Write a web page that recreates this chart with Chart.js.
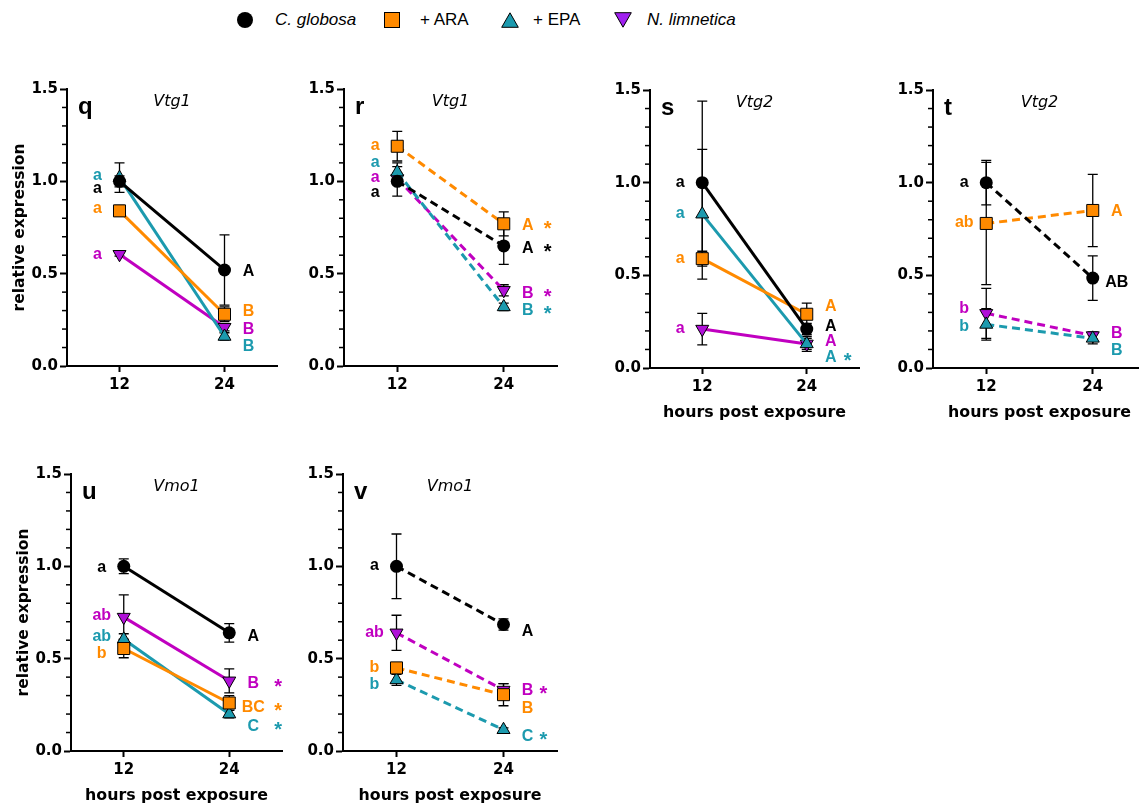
<!DOCTYPE html>
<html>
<head>
<meta charset="utf-8">
<script src="https://cdn.jsdelivr.net/npm/chart.js@4.4.1/dist/chart.umd.min.js"></script>
<style>
  html, body { margin: 0; padding: 0; background: #fff; }
  body { position: relative; width: 1139px; height: 807px; overflow: hidden; font-family: "Liberation Sans", Arial, sans-serif; }
  canvas { position: absolute; }
  .lg { position: absolute; top: 9px; height: 22px; line-height: 22px; font-size: 17px; color: #000; white-space: nowrap; }
  .lg.it { font-style: italic; }
  .mk { position: absolute; }
</style>
</head>
<body>

<!-- legend -->
<svg class="mk" style="left:236px;top:11px" width="18" height="18"><circle cx="9" cy="9" r="8" fill="#000"/></svg>
<div class="lg it" style="left:275px">C. globosa</div>
<svg class="mk" style="left:384px;top:12px" width="16" height="16"><rect x="0.5" y="0.5" width="15" height="15" fill="#FF8A00" stroke="#000"/></svg>
<div class="lg" style="left:420px">+ ARA</div>
<svg class="mk" style="left:501px;top:12px" width="18" height="16"><polygon points="9,0.8 17.3,15.3 0.7,15.3" fill="#1C9AAE" stroke="#000"/></svg>
<div class="lg" style="left:533px">+ EPA</div>
<svg class="mk" style="left:614px;top:12px" width="18" height="16"><polygon points="0.7,0.7 17.3,0.7 9,15.2" fill="#A020F0" stroke="#000"/></svg>
<div class="lg it" style="left:647px">N. limnetica</div>

<script>
// ==========================================
// Data (series order: C. globosa, + ARA, + EPA, N. limnetica)
// ==========================================
const hours = [12, 24];
const seriesNames = ['C. globosa', '+ ARA', '+ EPA', 'N. limnetica'];
const yTicks = [0, 0.5, 1.0, 1.5];

// q - Vtg1
const qMean = [[1.00, 0.52], [0.84, 0.28], [1.02, 0.16], [0.605, 0.21]];
const qSem = [[0.03, 0.19], [0.03, 0.04], [0.08, 0.02], [0.01, 0.02]];
const qEarly = ['a', 'a', 'a', 'a'];
const qEarlyY = [0.96, 0.85, 1.03, 0.60];
const qLate = ['A', 'B', 'B', 'B'];
const qLateY = [0.52, 0.305, 0.115, 0.205];
const qStar = [0, 0, 0, 0];

// r - Vtg1
const rMean = [[1.00, 0.65], [1.19, 0.77], [1.05, 0.32], [1.015, 0.41]];
const rSem = [[0.08, 0.10], [0.08, 0.065], [0.05, 0.02], [0.03, 0.03]];
const rEarly = ['a', 'a', 'a', 'a'];
const rEarlyY = [0.935, 1.19, 1.10, 1.016];
const rLate = ['A', 'A', 'B', 'B'];
const rLateY = [0.645, 0.77, 0.307, 0.40];
const rStar = [1, 1, 1, 1];

// s - Vtg2
const sMean = [[1.00, 0.21], [0.59, 0.29], [0.83, 0.13], [0.21, 0.13]];
const sSem = [[0.44, 0.03], [0.04, 0.06], [0.35, 0.03], [0.085, 0.04]];
const sEarly = ['a', 'a', 'a', 'a'];
const sEarlyY = [1.0, 0.59, 0.83, 0.21];
const sLate = ['A', 'A', 'A', 'A'];
const sLateY = [0.232, 0.34, 0.065, 0.151];
const sStar = [0, 0, 1, 0];

// t - Vtg2
const tMean = [[1.00, 0.485], [0.78, 0.85], [0.235, 0.16], [0.295, 0.175]];
const tSem = [[0.12, 0.12], [0.33, 0.195], [0.085, 0.03], [0.135, 0.02]];
const tEarly = ['a', 'ab', 'b', 'b'];
const tEarlyY = [1.0, 0.78, 0.222, 0.317];
const tLate = ['AB', 'A', 'B', 'B'];
const tLateY = [0.47, 0.85, 0.105, 0.194];
const tStar = [0, 0, 0, 0];

// u - Vmo1
const uMean = [[1.00, 0.64], [0.555, 0.26], [0.605, 0.20], [0.725, 0.38]];
const uSem = [[0.04, 0.05], [0.05, 0.04], [0.03, 0.02], [0.12, 0.065]];
const uEarly = ['a', 'b', 'ab', 'ab'];
const uEarlyY = [0.99, 0.525, 0.62, 0.73];
const uLate = ['A', 'BC', 'C', 'B'];
const uLateY = [0.628, 0.244, 0.141, 0.375];
const uStar = [0, 1, 1, 1];

// v - Vmo1
const vMean = [[1.00, 0.685], [0.45, 0.305], [0.385, 0.115], [0.64, 0.33]];
const vSem = [[0.175, 0.03], [0.02, 0.06], [0.03, 0.01], [0.095, 0.035]];
const vEarly = ['a', 'b', 'b', 'ab'];
const vEarlyY = [1.0, 0.45, 0.357, 0.64];
const vLate = ['A', 'B', 'C', 'B'];
const vLateY = [0.655, 0.24, 0.087, 0.335];
const vStar = [0, 0, 1, 1];

// ==========================================
// Styles
// ==========================================
const FONT = '"Liberation Sans", Arial, sans-serif';
const WIDE = '"DejaVu Sans", Verdana, sans-serif';
Chart.defaults.font.family = WIDE;

const lineColors = ['#000000', '#FF8A00', '#1C9AAE', '#C000C0'];
const fillColors = ['#000000', '#FF8A00', '#1C9AAE', '#B010D8'];
const pointStyles = ['circle', 'rect', 'triangle', 'triangle'];
const pointRot = [0, 0, 0, 180];
const pointRad = [6.5, 8.5, 7.5, 7.5];

// chart area in page pixels: [left, right, top, bottom]
const panels = [
  { id: 'q', gene: 'Vtg1', dashed: false, box: [67, 277, 89, 366], yTitle: true, xTitle: false, starDx: 44,
    mean: qMean, sem: qSem, early: qEarly, earlyY: qEarlyY, late: qLate, lateY: qLateY, star: qStar },
  { id: 'r', gene: 'Vtg1', dashed: true, box: [344, 557, 89, 366], yTitle: false, xTitle: false, starDx: 44,
    mean: rMean, sem: rSem, early: rEarly, earlyY: rEarlyY, late: rLate, lateY: rLateY, star: rStar },
  { id: 's', gene: 'Vtg2', dashed: false, box: [650, 859, 90, 368], yTitle: false, xTitle: true, starDx: 41,
    mean: sMean, sem: sSem, early: sEarly, earlyY: sEarlyY, late: sLate, lateY: sLateY, star: sStar },
  { id: 't', gene: 'Vtg2', dashed: true, box: [933, 1146, 90, 368], yTitle: false, xTitle: true, starDx: 44,
    mean: tMean, sem: tSem, early: tEarly, earlyY: tEarlyY, late: tLate, lateY: tLateY, star: tStar },
  { id: 'u', gene: 'Vmo1', dashed: false, box: [71, 282, 474, 751], yTitle: true, xTitle: true, starDx: 49,
    mean: uMean, sem: uSem, early: uEarly, earlyY: uEarlyY, late: uLate, lateY: uLateY, star: uStar },
  { id: 'v', gene: 'Vmo1', dashed: true, box: [343, 557, 474, 751], yTitle: false, xTitle: true, starDx: 40,
    mean: vMean, sem: vSem, early: vEarly, earlyY: vEarlyY, late: vLate, lateY: vLateY, star: vStar },
];

// ==========================================
// Error bars, minor ticks, letters
// ==========================================
function makeDecor(p) {
  return {
    id: 'decor_' + p.id,
    beforeDatasetsDraw(chart) {
      const { ctx, scales: { x, y } } = chart;
      ctx.save();
      ctx.strokeStyle = '#000';
      ctx.lineWidth = 1.3;
      p.mean.forEach((m, i) => {
        hours.forEach((h, j) => {
          const px = x.getPixelForValue(h);
          const top = y.getPixelForValue(m[j] + p.sem[i][j]);
          const bot = y.getPixelForValue(m[j] - p.sem[i][j]);
          ctx.beginPath();
          ctx.moveTo(px, top); ctx.lineTo(px, bot);
          ctx.moveTo(px - 5, top); ctx.lineTo(px + 5, top);
          ctx.moveTo(px - 5, bot); ctx.lineTo(px + 5, bot);
          ctx.stroke();
        });
      });
      ctx.restore();
    },
    afterDraw(chart) {
      const { ctx, chartArea: a, scales: { x, y } } = chart;
      ctx.save();

      // minor ticks every 0.1
      ctx.strokeStyle = '#000';
      ctx.lineWidth = 1.5;
      for (let k = 1; k < 15; k++) {
        if (k % 5 === 0) continue;
        const py = y.getPixelForValue(k / 10);
        ctx.beginPath();
        ctx.moveTo(a.left - 5, py);
        ctx.lineTo(a.left, py);
        ctx.stroke();
      }

      // panel letter + gene
      ctx.fillStyle = '#000';
      ctx.textAlign = 'left';
      ctx.textBaseline = 'alphabetic';
      ctx.font = 'bold 24px ' + FONT;
      ctx.fillText(p.id, a.left + 11, a.top + 25);
      ctx.textAlign = 'center';
      ctx.font = 'oblique 16px ' + WIDE;
      ctx.fillText(p.gene, (a.left + a.right) / 2, a.top + 17);

      // significance letters
      const x12 = x.getPixelForValue(hours[0]);
      const x24 = x.getPixelForValue(hours[1]);
      ctx.font = 'bold 16px ' + FONT;
      p.early.forEach((t, i) => {
        ctx.fillStyle = lineColors[i];
        ctx.fillText(t, x12 - 22, y.getPixelForValue(p.earlyY[i]) + 4);
      });
      p.late.forEach((t, i) => {
        const cy = y.getPixelForValue(p.lateY[i]);
        ctx.fillStyle = lineColors[i];
        ctx.font = 'bold 16px ' + FONT;
        ctx.fillText(t, x24 + 24, cy + 6);
        if (p.star[i]) {
          ctx.font = 'bold 20px ' + FONT;
          ctx.fillText('*', x24 + p.starDx, cy + 11);
        }
      });
      ctx.restore();
    }
  };
}

// ==========================================
// Charts
// ==========================================
const PAD_L = 7, Y_W = 60, PAD_T = 15, PAD_R = 20, X_H = 60;

panels.forEach(p => {
  const [x0, x1, top, bottom] = p.box;
  const left = x0 - PAD_L - Y_W;
  const cTop = top - PAD_T;
  const w = x1 + PAD_R - left;
  const h = bottom + X_H - cTop;

  const canvas = document.createElement('canvas');
  canvas.width = w;
  canvas.height = h;
  canvas.style.left = left + 'px';
  canvas.style.top = cTop + 'px';
  canvas.style.width = w + 'px';
  canvas.style.height = h + 'px';
  document.body.appendChild(canvas);

  const datasets = p.mean.map((m, i) => ({
    label: seriesNames[i],
    data: hours.map((hr, j) => ({ x: hr, y: m[j] })),
    borderColor: lineColors[i],
    borderWidth: 3,
    borderDash: p.dashed ? [8, 5] : [],
    pointStyle: pointStyles[i],
    pointRotation: pointRot[i],
    pointRadius: pointRad[i],
    pointBackgroundColor: fillColors[i],
    pointBorderColor: '#000',
    pointBorderWidth: i === 0 ? 0 : 1,
    tension: 0,
    clip: false
  }));

  new Chart(canvas.getContext('2d'), {
    type: 'line',
    data: { datasets },
    options: {
      responsive: false,
      animation: false,
      devicePixelRatio: 1,
      layout: { padding: { left: PAD_L, top: PAD_T, right: PAD_R, bottom: 0 } },
      plugins: { legend: { display: false }, tooltip: { enabled: false } },
      scales: {
        x: {
          type: 'linear',
          min: 6,
          max: 30,
          afterBuildTicks: s => { s.ticks = hours.map(v => ({ value: v })); },
          afterFit: s => { s.height = X_H; },
          grid: { drawOnChartArea: false, tickLength: 6, color: '#000', tickWidth: 2 },
          border: { color: '#000', width: 2 },
          ticks: { color: '#000', font: { family: WIDE, weight: 'bold', size: 15 }, padding: 4, maxRotation: 0 },
          title: { display: p.xTitle, text: 'hours post exposure', color: '#000',
                   font: { family: WIDE, weight: 'bold', size: 15.8 }, padding: { top: 0, bottom: 6 } }
        },
        y: {
          min: 0,
          max: 1.5,
          afterBuildTicks: s => { s.ticks = yTicks.map(v => ({ value: v })); },
          afterFit: s => { s.width = Y_W; },
          grid: { drawOnChartArea: false, tickLength: 7, color: '#000', tickWidth: 2 },
          border: { color: '#000', width: 2 },
          ticks: { color: '#000', font: { family: WIDE, weight: 'bold', size: 15 }, padding: 2,
                   callback: v => Number(v).toFixed(1) },
          title: { display: p.yTitle, text: 'relative expression', color: '#000',
                   font: { family: WIDE, weight: 'bold', size: 15.5 }, padding: { top: 4, bottom: 4 } }
        }
      }
    },
    plugins: [makeDecor(p)]
  });
});
</script>
</body>
</html>
